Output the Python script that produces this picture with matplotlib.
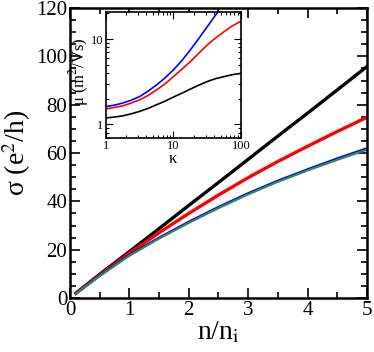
import numpy as np
import matplotlib.pyplot as plt
from matplotlib.ticker import MultipleLocator, LogLocator, NullFormatter

plt.rcParams['font.family'] = ['Liberation Serif', 'DejaVu Serif']
plt.rcParams['mathtext.fontset'] = 'stix'

# main panel: conductivity vs n/n_i
n = [0.1, 0.5, 1.0, 1.5, 2.0, 2.5, 3.0, 3.5, 4.0, 4.5, 5.0]
sig_black = [2.0, 9.8, 19.2, 28.7, 38.3, 47.8, 57.4, 67.0, 76.5, 86.1, 95.8]
sig_red = [2.0, 9.5, 18.5, 27.0, 35.0, 42.6, 49.8, 56.5, 62.8, 68.9, 74.8]
sig_blue = [1.9, 9.3, 17.8, 24.9, 31.5, 37.6, 43.3, 48.5, 53.2, 57.7, 61.9]
sig_green = [1.8, 9.1, 17.5, 24.6, 31.1, 37.2, 42.9, 48.1, 52.8, 57.2, 61.4]

# inset: mobility vs kappa
kappa = [1.0, 1.334, 1.778, 2.371, 3.162, 4.217, 5.623, 7.499, 10.0,
         13.34, 17.78, 23.71, 31.62, 42.17, 56.23, 74.99, 100.0]
mu_black = [1.19, 1.22, 1.26, 1.33, 1.42, 1.54, 1.70, 1.87, 2.09,
            2.32, 2.59, 2.88, 3.18, 3.44, 3.63, 3.83, 3.97]
mu_red = [1.52, 1.58, 1.65, 1.78, 1.94, 2.18, 2.54, 2.98, 3.63,
          4.43, 5.44, 6.80, 8.51, 10.3, 12.2, 14.3, 16.2]
mu_blue = [1.62, 1.68, 1.78, 1.92, 2.12, 2.45, 2.90, 3.50, 4.35,
           5.59, 7.44, 10.1, 13.9, 19.1, 26.1]
kappa_blue = kappa[:len(mu_blue)]

fig = plt.figure(figsize=(3.74, 3.52), dpi=100)
ax = fig.add_axes([0.187, 0.1534, 0.794, 0.8236])

ax.plot(n, sig_black, color='black', lw=2.4)
ax.plot(n, sig_red, color='red', lw=2.4)
ax.plot(n, sig_blue, color='blue', lw=1.8)
ax.plot(n, sig_green, color='#2e8b57', lw=1.6)

ax.set_xlim(0, 5)
ax.set_ylim(0, 120)
ax.xaxis.set_major_locator(MultipleLocator(1))
ax.xaxis.set_minor_locator(MultipleLocator(0.5))
ax.yaxis.set_major_locator(MultipleLocator(20))
ax.yaxis.set_minor_locator(MultipleLocator(5))
ax.tick_params(which='both', direction='in', top=True, right=True, width=1.2)
ax.tick_params(which='major', length=7, labelsize=15, pad=2)
ax.tick_params(which='minor', length=4)
for s in ax.spines.values():
    s.set_linewidth(1.8)
ax.set_xlabel(r'n/n$_\mathrm{i}$', fontsize=20, labelpad=0)
ax.set_ylabel(r'σ (e$^2$/h)', fontsize=20, labelpad=2)

ins = fig.add_axes([0.283, 0.609, 0.361, 0.358])
ins.plot(kappa, mu_black, color='black', lw=1.2)
ins.plot(kappa, mu_red, color='red', lw=1.2)
ins.plot(kappa_blue, mu_blue, color='blue', lw=1.2)
ins.set_xscale('log')
ins.set_yscale('log')
ins.set_xlim(1, 100)
ins.set_ylim(0.7, 21)
ins.xaxis.set_minor_locator(LogLocator(base=10, subs=np.arange(2, 10)))
ins.yaxis.set_minor_locator(LogLocator(base=10, subs=np.arange(2, 10)))
ins.xaxis.set_minor_formatter(NullFormatter())
ins.yaxis.set_minor_formatter(NullFormatter())
ins.set_xticks([1, 10, 100])
ins.set_xticklabels(['1', '10', '100'])
ins.set_yticks([1, 10])
ins.set_yticklabels(['1', '10'])
ins.tick_params(which='both', direction='in', top=True, right=True, width=0.8)
ins.tick_params(which='major', length=5, labelsize=9, pad=2)
ins.tick_params(which='minor', length=2.5)
for s in ins.spines.values():
    s.set_linewidth(1.2)
ins.set_xlabel('κ', fontsize=12, labelpad=-1)
ins.set_ylabel(r'μ (m$^2$/Vs)', fontsize=12)
ins.yaxis.set_label_coords(-0.11, 0.52)

fig.savefig('out.png', dpi=100)
